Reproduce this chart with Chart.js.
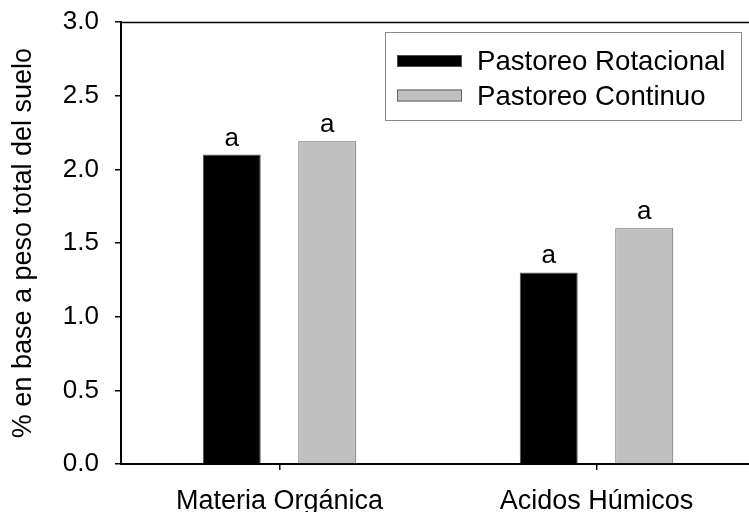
<!DOCTYPE html>
<html>
<head>
<meta charset="utf-8">
<script src="https://cdn.jsdelivr.net/npm/chart.js@4"></script>
<style>
  html, body { margin: 0; padding: 0; background: #fff; overflow: hidden; }
  #wrap { width: 755px; height: 512px; }
</style>
</head>
<body>
<div id="wrap"><canvas id="c" width="755" height="512"></canvas></div>
<script>
const categories = ['Materia Orgánica', 'Acidos Húmicos'];
const seriesNames = ['Pastoreo Rotacional', 'Pastoreo Continuo'];
const rotacional = [2.10, 1.30];
const continuo = [2.19, 1.60];
const letters = [['a', 'a'], ['a', 'a']];
const yTicks = [0.0, 0.5, 1.0, 1.5, 2.0, 2.5, 3.0];

const FONT = "'Liberation Sans', Arial, Helvetica, sans-serif";

const extras = {
  id: 'extras',
  afterDraw(chart) {
    const ctx = chart.ctx;
    const ca = chart.chartArea;
    ctx.save();
    // top frame line
    ctx.strokeStyle = '#000';
    ctx.lineWidth = 1.5;
    ctx.beginPath();
    ctx.moveTo(ca.left, ca.top + 0.5);
    ctx.lineTo(ca.right, ca.top + 0.5);
    ctx.stroke();

    // significance letters
    ctx.fillStyle = '#000';
    ctx.font = '26px ' + FONT;
    ctx.textAlign = 'center';
    ctx.textBaseline = 'alphabetic';
    chart.data.datasets.forEach((ds, di) => {
      const meta = chart.getDatasetMeta(di);
      meta.data.forEach((bar, i) => {
        ctx.fillText(letters[di][i], bar.x, bar.y - 9);
      });
    });

    // legend box
    const bx = 385.5, by = 32.5, bw = 356, bh = 88;
    ctx.strokeStyle = '#8a8a8a';
    ctx.lineWidth = 1;
    ctx.strokeRect(bx, by, bw, bh);
    ctx.font = '27.6px ' + FONT;
    ctx.textAlign = 'left';
    ctx.textBaseline = 'alphabetic';
    const rows = [{sy: 55, tb: 70}, {sy: 89.5, tb: 105}];
    chart.data.datasets.forEach((ds, di) => {
      const r = rows[di];
      ctx.fillStyle = ds.backgroundColor;
      ctx.fillRect(397, r.sy, 65, 12);
      ctx.strokeStyle = ds.borderColor;
      ctx.lineWidth = 1;
      ctx.strokeRect(397.5, r.sy + 0.5, 64, 11);
      ctx.fillStyle = '#000';
      ctx.fillText(ds.label, 477, r.tb);
    });
    ctx.restore();
  }
};

new Chart(document.getElementById('c'), {
  type: 'bar',
  data: {
    labels: categories,
    datasets: [
      { label: seriesNames[0], data: rotacional, backgroundColor: '#000000', borderColor: '#505050', borderWidth: 1,
        categoryPercentage: 0.6025, barPercentage: 0.607 },
      { label: seriesNames[1], data: continuo, backgroundColor: '#c0c0c0', borderColor: '#606060', borderWidth: 1,
        categoryPercentage: 0.6025, barPercentage: 0.607 }
    ]
  },
  options: {
    responsive: false,
    animation: false,
    devicePixelRatio: 1,
    layout: { padding: { top: 22, left: 0, right: 0, bottom: 0 } },
    plugins: { legend: { display: false }, tooltip: { enabled: false } },
    scales: {
      x: {
        offset: true,
        grid: { display: true, offset: false, drawOnChartArea: false, drawTicks: true, tickLength: 6, color: '#000', lineWidth: 1.5 },
        border: { display: true, color: '#000', width: 2 },
        ticks: { color: '#000', font: { family: FONT, size: 27 }, padding: 15, maxRotation: 0 },
        afterFit(scale) { scale.height = 48; scale.paddingLeft = 0; scale.paddingRight = 0; }
      },
      y: {
        min: 0, max: 3,
        afterBuildTicks(scale) { scale.ticks = yTicks.map(v => ({ value: v })); },
        grid: { display: true, drawOnChartArea: false, drawTicks: true, tickLength: 6, color: '#000', lineWidth: 1.5 },
        border: { display: true, color: '#000', width: 2 },
        ticks: { color: '#000', font: { family: FONT, size: 26 }, padding: 16,
                 callback: v => Number(v).toFixed(1) },
        title: { display: true, text: '% en base a peso total del suelo', color: '#000',
                 font: { family: FONT, size: 27 }, padding: { top: 7, bottom: 0 } },
        afterFit(scale) { scale.width = 121; scale.paddingTop = 0; scale.paddingBottom = 0; }
      }
    }
  },
  plugins: [extras]
});
</script>
</body>
</html>
